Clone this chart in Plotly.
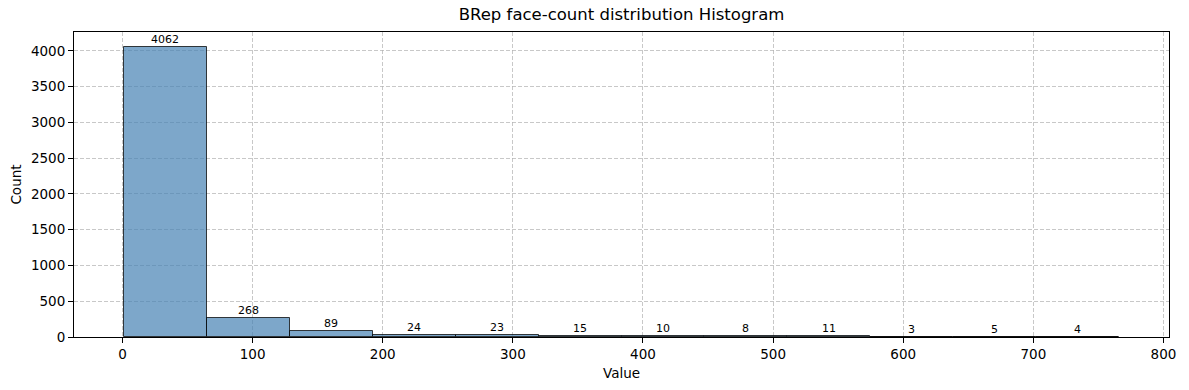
import plotly.graph_objects as go

# Histogram data
bin_edges = [1, 64.75, 128.5, 192.25, 256, 319.75, 383.5, 447.25, 511, 574.75, 638.5, 702.25, 766]
counts = [4062, 268, 89, 24, 23, 15, 10, 8, 11, 3, 5, 4]
x_ticks = [0, 100, 200, 300, 400, 500, 600, 700, 800]
y_ticks = [0, 500, 1000, 1500, 2000, 2500, 3000, 3500, 4000]

title_text = "BRep face-count distribution Histogram"
x_label = "Value"
y_label = "Count"

lefts = bin_edges[:-1]
rights = bin_edges[1:]
centers = [(a + b) / 2 for a, b in zip(lefts, rights)]
widths = [b - a for a, b in zip(lefts, rights)]

FONT = "DejaVu Sans"

fig = go.Figure()
fig.add_trace(go.Bar(
    x=centers,
    y=counts,
    width=widths,
    marker=dict(color="rgba(70,130,180,0.7)",
                line=dict(color="rgba(0,0,0,0.75)", width=1)),
    hoverinfo="x+y",
    showlegend=False,
))

for cx, c in zip(centers, counts):
    fig.add_annotation(x=cx, y=c, text=str(c), showarrow=False,
                       yanchor="bottom", xanchor="center", yshift=-1,
                       font=dict(family=FONT, size=11, color="black"))

x_min, x_max = bin_edges[0], bin_edges[-1]
pad = 0.05 * (x_max - x_min)
y_top = max(counts) * 1.05

axis_common = dict(
    showline=True, linecolor="black", linewidth=1, mirror=True,
    ticks="outside", ticklen=5, tickwidth=1, tickcolor="black",
    showgrid=True, gridcolor="rgba(176,176,176,0.7)", griddash="4px,2px", gridwidth=1,
    zeroline=False,
    tickfont=dict(family=FONT, size=13.5, color="black"),
)

fig.update_layout(
    width=1189, height=390,
    margin=dict(l=74, r=20, t=32, b=53, autoexpand=False),
    paper_bgcolor="white", plot_bgcolor="white",
    title=dict(text=title_text, x=621.5 / 1189, xanchor="center",
               y=1 - 14 / 390, yanchor="middle", yref="container",
               font=dict(family=FONT, size=16.5, color="black")),
    xaxis=dict(range=[x_min - pad, x_max + pad], tickvals=x_ticks,
               title=dict(text=x_label, standoff=7, font=dict(family=FONT, size=13.5, color="black")),
               **axis_common),
    yaxis=dict(range=[0, y_top], tickvals=y_ticks,
               title=dict(text=y_label, standoff=6, font=dict(family=FONT, size=13.5, color="black")),
               **axis_common),
    bargap=0,
)

fig.write_html("out.html",
               config={"displayModeBar": False},
               post_script="document.body.style.margin='0';document.body.style.overflow='hidden';")
